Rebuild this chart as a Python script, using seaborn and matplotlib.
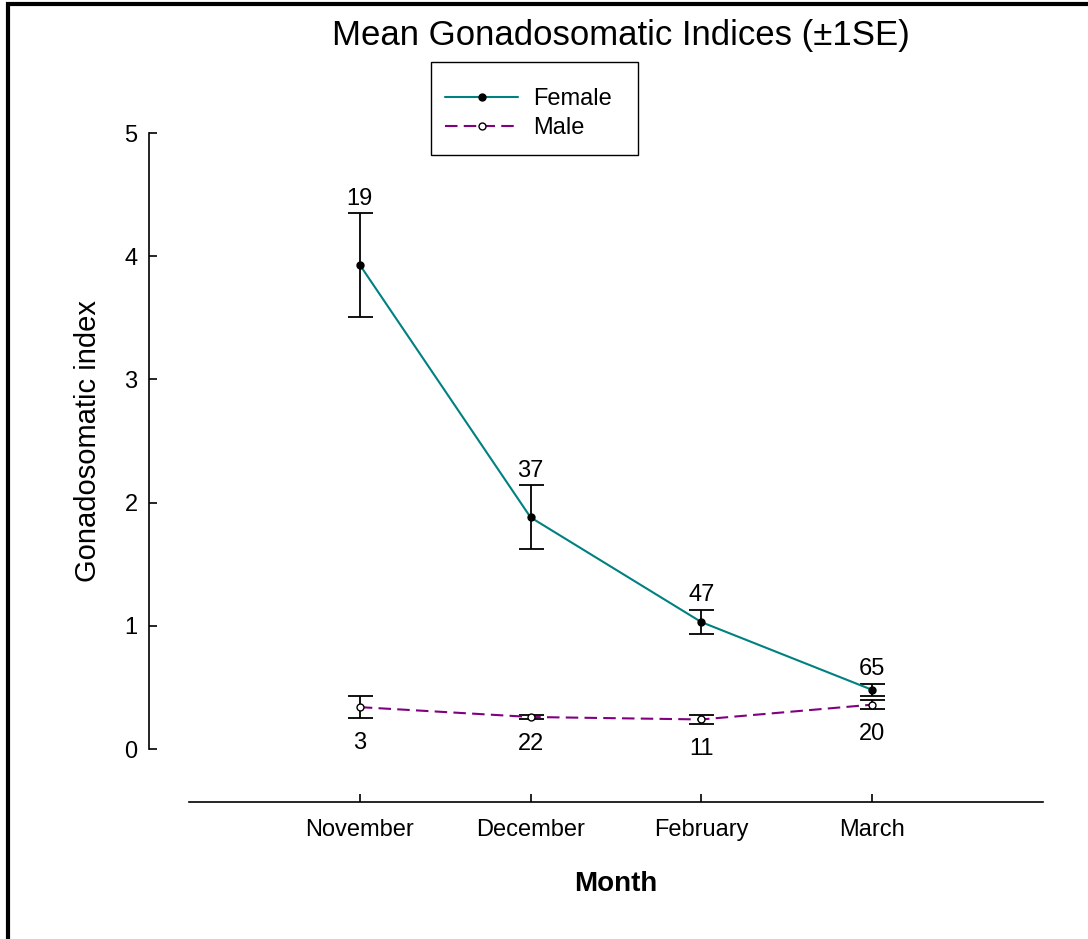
import numpy as np
import pandas as pd
import matplotlib
matplotlib.use("Agg")
import matplotlib.pyplot as plt
from matplotlib.patches import Rectangle
from matplotlib.lines import Line2D
import seaborn as sns

# values
months = ["November", "December", "February", "March"]
female_gsi = [3.93, 1.88, 1.03, 0.48]
female_se = [0.42, 0.26, 0.10, 0.05]
female_n = [19, 37, 47, 65]
male_gsi = [0.34, 0.26, 0.24, 0.36]
male_se = [0.09, 0.02, 0.04, 0.035]
male_n = [3, 22, 11, 20]

sns.set_style("ticks")
plt.rcParams["font.family"] = ["Liberation Sans", "DejaVu Sans"]
for key in ["text.color", "axes.labelcolor", "xtick.color", "ytick.color", "axes.edgecolor"]:
    plt.rcParams[key] = "black"

df = pd.DataFrame({
    "Month": months * 2,
    "GSI": female_gsi + male_gsi,
    "Sex": ["Female"] * 4 + ["Male"] * 4,
})

fig = plt.figure(figsize=(10.88, 9.39), dpi=100)
ax = fig.add_axes([189 / 1088, 1 - 802 / 939, (1043 - 189) / 1088, (802 - 133) / 939])

palette = {"Female": "#008080", "Male": "#800080"}
dashes = {"Female": "", "Male": (6, 3)}
sns.lineplot(data=df, x="Month", y="GSI", hue="Sex", style="Sex",
             palette=palette, dashes=dashes,
             markers={"Female": "o", "Male": "o"}, markersize=5,
             linewidth=1.5, ax=ax, sort=False, legend=False)

# marker faces: filled for female, open for male
faces = {"Female": "black", "Male": "white"}
for line, sex in zip(ax.lines[:2], ["Female", "Male"]):
    line.set_markeredgecolor("black")
    line.set_markerfacecolor(faces[sex])
    line.set_markeredgewidth(1.0)

ax.errorbar(months, female_gsi, yerr=female_se, fmt="none", ecolor="black",
            elinewidth=1.3, capsize=9, capthick=1.3, zorder=1)
ax.errorbar(months, male_gsi, yerr=male_se, fmt="none", ecolor="black",
            elinewidth=1.3, capsize=9, capthick=1.3, zorder=1)

for m, v, s, n in zip(months, female_gsi, female_se, female_n):
    ax.annotate(str(n), (m, v + s), xytext=(0, 2.5), textcoords="offset points",
                ha="center", va="bottom", fontsize=17)
for m, v, s, n in zip(months, male_gsi, male_se, male_n):
    ax.annotate(str(n), (m, v - s), xytext=(0, -10), textcoords="offset points",
                ha="center", va="top", fontsize=17)

ax.set_xlim(-1, 4)
ax.set_ylim(-0.43, 5)
ax.set_yticks([0, 1, 2, 3, 4, 5])
ax.spines["top"].set_visible(False)
ax.spines["right"].set_visible(False)
ax.spines["left"].set_position(("outward", 29))
ax.spines["left"].set_bounds(0, 5)
for sp in ["left", "bottom"]:
    ax.spines[sp].set_linewidth(1.2)
ax.tick_params(axis="both", direction="in", length=6, width=1.2, labelsize=17)
ax.tick_params(axis="y", pad=8)
ax.tick_params(axis="x", pad=12)

ax.set_xlabel("Month", fontsize=20, fontweight="bold", labelpad=22)
ax.set_ylabel("Gonadosomatic index", fontsize=21)
ax.yaxis.set_label_coords(-0.102, (802 - 441) / (802 - 133))
fig.text(621 / 1088, 1 - 36 / 939, "Mean Gonadosomatic Indices (±1SE)", fontsize=25,
         ha="center", va="center")

handles = [Line2D([], [], color=palette[s], linestyle="-" if s == "Female" else (0, (6, 3)),
                  linewidth=1.5, marker="o", markersize=5, markerfacecolor=faces[s],
                  markeredgecolor="black") for s in ["Female", "Male"]]
ax.legend(handles, ["Female", "Male"], loc="upper left",
          bbox_to_anchor=(445 / 1088, 1 - 88 / 939),
          bbox_transform=fig.transFigure, fontsize=17, frameon=False,
          handlelength=3.1, handletextpad=0.65, borderpad=0,
          labelspacing=0.3, borderaxespad=0)

# legend box and page frame
fig.patches.append(Rectangle((431 / 1088, 1 - 155 / 939), 207 / 1088, 93 / 939,
                             transform=fig.transFigure, fill=False, edgecolor="black",
                             linewidth=1.0, figure=fig))
fig.patches.append(Rectangle((8 / 1088, -0.1), 1.2, 1.1 - 4 / 939, transform=fig.transFigure,
                             fill=False, edgecolor="black", linewidth=3, figure=fig))

fig.savefig("out.png", dpi=100)
